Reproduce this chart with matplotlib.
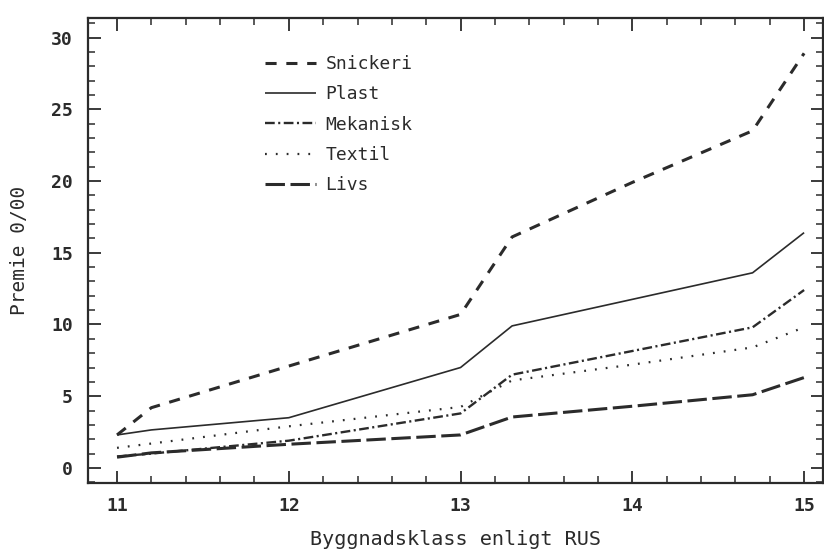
import matplotlib
matplotlib.use("Agg")
import matplotlib.pyplot as plt
from matplotlib.ticker import MultipleLocator

# ---- data ----
x_klass = [11, 11.2, 12, 13, 13.3, 14, 14.7, 15]
snickeri = [2.3, 4.2, 7.1, 10.7, 16.1, 19.9, 23.5, 28.9]
plast    = [2.3, 2.65, 3.5, 7.0, 9.9, 11.75, 13.6, 16.4]
mekanisk = [0.8, 1.0, 1.9, 3.8, 6.5, 8.15, 9.8, 12.4]
textil   = [1.4, 1.7, 2.9, 4.25, 6.1, 7.2, 8.4, 9.8]
livs     = [0.75, 1.05, 1.65, 2.3, 3.55, 4.3, 5.1, 6.3]

series_names = ["Snickeri", "Plast", "Mekanisk", "Textil", "Livs"]
x_ticks = [11, 12, 13, 14, 15]
y_ticks = [0, 5, 10, 15, 20, 25, 30]

plt.rcParams['lines.scale_dashes'] = False
ink = '#2b2b2b'
mono = ['DejaVu Sans Mono']

fig = plt.figure(figsize=(8.24, 5.51), dpi=100)
ax = fig.add_axes([88/824, 1-483/551, (823-88)/824, (483-18)/551])

styles = [
    dict(lw=2.2, dashes=(8.0, 7.0)),
    dict(lw=1.2, linestyle='-'),
    dict(lw=1.7, dashes=(7, 2.5, 1.5, 2.5)),
    dict(lw=1.6, dashes=(1.3, 6.5)),
    dict(lw=2.2, dashes=(14, 4)),
]
data = [snickeri, plast, mekanisk, textil, livs]
for name, ys, st in zip(series_names, data, styles):
    ax.plot(x_klass, ys, color=ink, label=name, solid_capstyle='butt',
            dash_capstyle='butt', **st)

ax.set_xlim(10.831, 15.11)
ax.set_ylim(-1.05, 31.36)
ax.set_xticks(x_ticks)
ax.set_yticks(y_ticks)
ax.xaxis.set_minor_locator(MultipleLocator(0.2))
ax.yaxis.set_minor_locator(MultipleLocator(1))
ax.tick_params(which='both', direction='in', top=True, right=True, color=ink)
ax.tick_params(which='major', length=9, width=1.3)
ax.tick_params(which='minor', length=5, width=1.1)
ax.tick_params(axis='x', which='major', pad=10)
ax.tick_params(axis='y', which='major', pad=11)
for lab in ax.get_xticklabels() + ax.get_yticklabels():
    lab.set_fontfamily(mono)
    lab.set_fontsize(13)
    lab.set_fontweight('bold')
    lab.set_color(ink)
for sp in ax.spines.values():
    sp.set_linewidth(1.6)
    sp.set_color(ink)

ax.set_xlabel("Byggnadsklass enligt RUS", fontfamily=mono, fontsize=14.5,
              color=ink, labelpad=11)
ax.set_ylabel("Premie 0/00", fontfamily=mono, fontsize=14, color=ink,
              labelpad=16)

leg = ax.legend(loc='upper left', bbox_to_anchor=(0.241, 0.92), frameon=False,
                borderpad=0, borderaxespad=0, handlelength=2.8,
                handletextpad=0.55, labelspacing=0.68,
                prop=dict(family=mono, size=13))
for t in leg.get_texts():
    t.set_color(ink)

fig.savefig("out.png", dpi=100)
